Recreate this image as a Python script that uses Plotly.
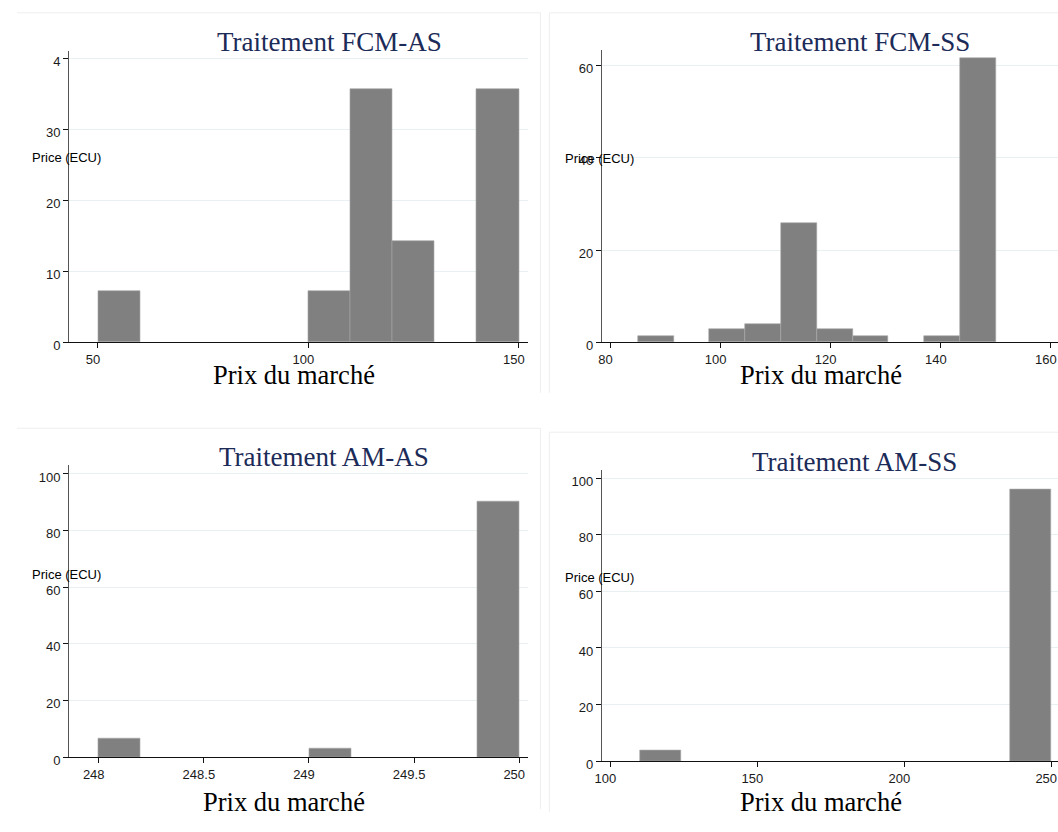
import plotly.graph_objects as go

W, H = 1058, 832

# ---- data (histogram bins: left edge, bin width, percent) ----
fcm_as_left = [50, 100, 110, 120, 140]
fcm_as_width = 10
fcm_as_pct = [7.14, 7.14, 35.71, 14.29, 35.71]

fcm_ss_left = [85, 98, 104.5, 111, 117.5, 124, 137, 143.5]
fcm_ss_width = 6.5
fcm_ss_pct = [1.43, 2.86, 3.9, 25.9, 2.86, 1.43, 1.43, 61.7]

am_as_left = [248, 249, 249.8]
am_as_width = 0.2
am_as_pct = [6.45, 3.23, 90.32]

am_ss_left = [110, 236]
am_ss_width = 14
am_ss_pct = [3.85, 96.15]

titles = ["Traitement FCM-AS", "Traitement FCM-SS", "Traitement AM-AS", "Traitement AM-SS"]
xtitle = "Prix du marché"
ytitle = "Price (ECU)"

ticks1_x = [50, 100, 150]
ticks1_y = [0, 10, 20, 30, 40]
ticks1_ytext = ["0", "10", "20", "30", "4"]
ticks2_x = [80, 100, 120, 140, 160]
ticks2_y = [0, 20, 40, 60]
ticks3_x = [248, 248.5, 249, 249.5, 250]
ticks3_xtext = ["248", "248.5", "249", "249.5", "250"]
ticks3_y = [0, 20, 40, 60, 80, 100]
ticks4_x = [100, 150, 200, 250]
ticks4_y = [0, 20, 40, 60, 80, 100]

BAR = "#808080"
GRID = "#e8f0f2"
NAVY = "#1c2b58"
TICKFONT = dict(family="Liberation Sans, Arial", size=13, color="#1a1a1a")


def px(x):
    return x / W


def py(y):
    return 1 - y / H


fig = go.Figure()

panels = [
    (fcm_as_left, fcm_as_width, fcm_as_pct, "x", "y"),
    (fcm_ss_left, fcm_ss_width, fcm_ss_pct, "x2", "y2"),
    (am_as_left, am_as_width, am_as_pct, "x3", "y3"),
    (am_ss_left, am_ss_width, am_ss_pct, "x4", "y4"),
]
for left, wd, pct, xa, ya in panels:
    fig.add_trace(go.Bar(
        x=[l + wd / 2 for l in left], y=pct, width=wd,
        marker=dict(color=BAR, line=dict(color="#a8a8a8", width=0.6)),
        xaxis=xa, yaxis=ya, showlegend=False, hoverinfo="x+y"))

common_x = dict(showline=True, linecolor="#111", linewidth=1.2, ticks="outside",
                ticklen=5, tickcolor="#111", showgrid=False, zeroline=False,
                tickfont=TICKFONT, ticklabeloverflow="allow", ticklabelshift=-5)
common_y = dict(showline=True, linecolor="#555", linewidth=1.4, ticks="outside",
                ticklen=5, tickcolor="#111", showgrid=True, gridcolor=GRID,
                gridwidth=1, zeroline=False, tickfont=TICKFONT,
                ticklabeloverflow="allow", ticklabelshift=3)

# panel geometry (page pixels)
LX0, LX1 = 62.7, 524.1
RX0, RX1 = 599.0, 1058.0

fig.update_layout(
    xaxis=dict(domain=[px(LX0), px(LX1)], range=[43.18, 152.1], tickvals=ticks1_x,
               anchor="y", **common_x),
    yaxis=dict(domain=[py(346.7), py(51.7)], range=[0, 41.06], tickvals=ticks1_y,
               ticktext=ticks1_ytext, anchor="x", **common_y),
    xaxis2=dict(domain=[px(RX0), px(RX1)], range=[78.48, 161.28], tickvals=ticks2_x,
                anchor="y2", **common_x),
    yaxis2=dict(domain=[py(346.7), py(50.7)], range=[0, 63.43], tickvals=ticks2_y,
                anchor="x2", **common_y),
    xaxis3=dict(domain=[px(LX0), px(LX1)], range=[247.86, 250.04], tickvals=ticks3_x,
                ticktext=ticks3_xtext, anchor="y3", **common_x),
    yaxis3=dict(domain=[py(767.3), py(471.7)], range=[0, 103.0], tickvals=ticks3_y,
                anchor="x3", **common_y),
    xaxis4=dict(domain=[px(RX0), px(RX1)], range=[97.16, 252.3], tickvals=ticks4_x,
                anchor="y4", **common_x),
    yaxis4=dict(domain=[py(771.3), py(476.7)], range=[0, 102.8], tickvals=ticks4_y,
                anchor="x4", **common_y),
    width=W, height=H, margin=dict(l=0, r=0, t=0, b=0),
    paper_bgcolor="white", plot_bgcolor="white", bargap=0, showlegend=False,
)

# titles, axis titles
title_pos = [(324.5, 42.5), (859.1, 42.5), (319.0, 463.3), (852.7, 468.3)]
xt_pos = [(289.3, 380.5), (819.6, 380.5), (278.9, 813), (819.6, 813)]
yt_pos = [(60.3, 160), (596.0, 160.7), (60.3, 581.7), (596.0, 585.7)]
ann = []
for t, (tx, ty) in zip(titles, title_pos):
    ann.append(dict(text=t, x=px(tx), y=py(ty), xref="paper", yref="paper",
                    xanchor="center", yanchor="middle", showarrow=False,
                    font=dict(family="Liberation Serif, Times New Roman", size=27, color=NAVY)))
for (tx, ty) in xt_pos:
    ann.append(dict(text=xtitle, x=px(tx), y=py(ty), xref="paper", yref="paper",
                    xanchor="center", yanchor="middle", showarrow=False,
                    font=dict(family="Liberation Serif, Times New Roman", size=26.5, color="#000")))
for (tx, ty) in yt_pos:
    ann.append(dict(text=ytitle, x=px(tx), y=py(ty), xref="paper", yref="paper",
                    xanchor="center", yanchor="middle", showarrow=False,
                    font=dict(family="Liberation Sans, Arial", size=13, color="#000")))
fig.update_layout(annotations=ann)

# faint panel borders
FR = "#eeeeee"
shapes = [
    dict(type="line", x0=px(10), x1=px(537), y0=py(13), y1=py(13)),
    dict(type="line", x0=px(537), x1=px(537), y0=py(13), y1=py(398)),
    dict(type="line", x0=px(546), x1=px(1058), y0=py(13), y1=py(13)),
    dict(type="line", x0=px(546), x1=px(546), y0=py(13), y1=py(398)),
    dict(type="line", x0=px(10), x1=px(537), y0=py(434), y1=py(434)),
    dict(type="line", x0=px(537), x1=px(537), y0=py(434), y1=py(820)),
    dict(type="line", x0=px(546), x1=px(1058), y0=py(438), y1=py(438)),
    dict(type="line", x0=px(546), x1=px(546), y0=py(438), y1=py(823)),
]
for s in shapes:
    s.update(xref="paper", yref="paper", line=dict(color=FR, width=1), layer="below")
fig.update_layout(shapes=shapes)

fig.write_html(
    "out.html",
    config={"displayModeBar": False},
    post_script="document.body.style.margin='0px';document.body.style.overflow='hidden';",
)
